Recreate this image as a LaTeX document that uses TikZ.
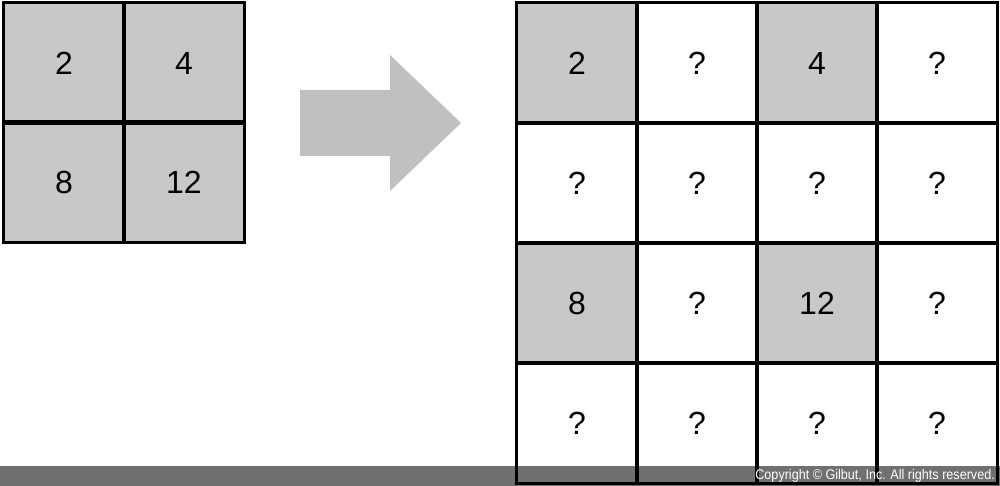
\documentclass[tikz,border=0pt]{standalone}
\usepackage{fontspec}
\setmainfont{Liberation Sans}
\begin{document}
\begin{tikzpicture}[x=1pt,y=-1pt,
  cellfill/.style={minimum width=120pt,minimum height=120pt,inner sep=0pt,font=\fontsize{32}{32}\selectfont},
  shaded/.style={cellfill,fill=cellgray},
  blank/.style={cellfill,fill=white},
  border/.style={draw=black,line width=3pt},
]
\definecolor{cellgray}{HTML}{C8C8C8}
\definecolor{arrowgray}{HTML}{C0C0C0}
\definecolor{bargray}{HTML}{707070}
\useasboundingbox (0,0) rectangle (1000,486);
\fill[white] (0,0) rectangle (1000,486);
% left grid
\node[shaded] (l11) at (64,63) {2};
\node[shaded] (l12) at (184,63) {4};
\node[shaded] (l21) at (64,182) {8};
\node[shaded] (l22) at (184,182) {12};
% arrow
\fill[arrowgray] (300,90) -- (390,90) -- (390,55) -- (461,123) -- (390,191) -- (390,156) -- (300,156) -- cycle;
% right grid
\node[shaded] (r11) at (577,63) {2};
\node[blank]  (r12) at (697,63) {?};
\node[shaded] (r13) at (817,63) {4};
\node[blank]  (r14) at (937,63) {?};
\node[blank]  (r21) at (577,183) {?};
\node[blank]  (r22) at (697,183) {?};
\node[blank]  (r23) at (817,183) {?};
\node[blank]  (r24) at (937,183) {?};
\node[shaded] (r31) at (577,303) {8};
\node[blank]  (r32) at (697,303) {?};
\node[shaded] (r33) at (817,303) {12};
\node[blank]  (r34) at (937,303) {?};
\node[blank]  (r41) at (577,423) {?};
\node[blank]  (r42) at (697,423) {?};
\node[blank]  (r43) at (817,423) {?};
\node[blank]  (r44) at (937,423) {?};
% bottom bar
\fill[bargray] (0,466) rectangle (1000,486);
% borders
\foreach \n in {l11,l12,l21,l22,r11,r12,r13,r14,r21,r22,r23,r24,r31,r32,r33,r34,r41,r42,r43,r44}
  \draw[border] (\n.north west) rectangle (\n.south east);
\node[anchor=east,text=white,inner sep=0pt,xscale=0.9,font=\fontsize{14}{14}\selectfont] (copy) at (995,475.5) {Copyright © Gilbut, Inc. All rights reserved.};
\end{tikzpicture}
\end{document}
